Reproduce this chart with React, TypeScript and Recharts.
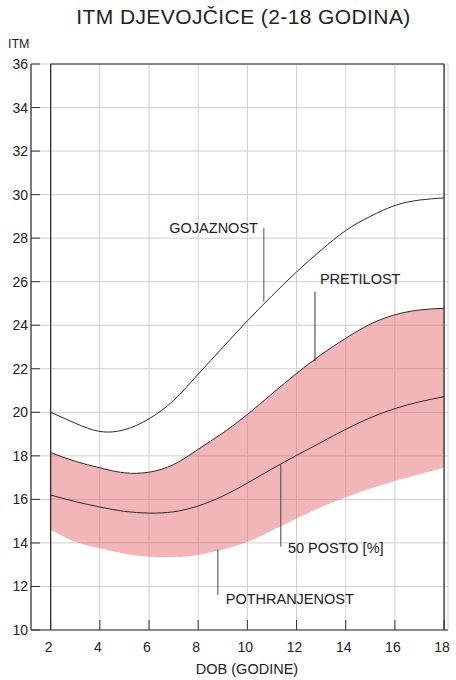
import React from 'react';
import {
  ComposedChart,
  Area,
  Line,
  XAxis,
  YAxis,
  CartesianGrid,
  ReferenceLine,
  ReferenceDot,
} from 'recharts';

// BMI percentile curves for girls, 2-18 years
const ages = [2, 3, 4, 5, 6, 7, 8, 9, 10, 11, 12, 13, 14, 15, 16, 17, 18];
const obese = [20.0, 19.5, 19.12, 19.2, 19.7, 20.55, 21.75, 22.98, 24.2, 25.35, 26.45, 27.45, 28.35, 29.0, 29.5, 29.75, 29.85];
const overweight = [18.15, 17.75, 17.45, 17.22, 17.25, 17.6, 18.3, 19.05, 19.9, 20.85, 21.78, 22.65, 23.4, 24.05, 24.48, 24.7, 24.78];
const median = [16.2, 15.9, 15.65, 15.45, 15.37, 15.43, 15.7, 16.15, 16.75, 17.4, 18.02, 18.62, 19.22, 19.75, 20.17, 20.48, 20.72];
const underweight = [14.6, 14.05, 13.75, 13.5, 13.37, 13.35, 13.45, 13.7, 14.05, 14.57, 15.12, 15.65, 16.1, 16.5, 16.85, 17.15, 17.45];

const xTicks = [2, 4, 6, 8, 10, 12, 14, 16, 18];
const yTicks = [10, 12, 14, 16, 18, 20, 22, 24, 26, 28, 30, 32, 34, 36];

const data = ages.map((age, i) => ({
  age,
  obese: obese[i],
  overweight: overweight[i],
  median: median[i],
  band: [underweight[i], overweight[i]],
}));

const FONT = '"Liberation Sans", Arial, sans-serif';
const LINE = '#2b2b2b';

const YTick = (props: any) => {
  const { x, y, payload } = props;
  return (
    <g>
      <line x1={x} x2={x + 9} y1={y} y2={y} stroke="#333" strokeWidth={1} />
      <text x={x - 3} y={y} textAnchor="end" dominantBaseline="central" fontSize={14} fill="#222" fontFamily={FONT}>
        {payload.value}
      </text>
    </g>
  );
};

const XTick = (props: any) => {
  const { x, y, payload } = props;
  return (
    <g>
      <line x1={x} x2={x} y1={y} y2={y - 10} stroke="#333" strokeWidth={1} />
      <text x={x - 2} y={y + 17} textAnchor="middle" dominantBaseline="central" fontSize={14} fill="#222" fontFamily={FONT}>
        {payload.value}
      </text>
    </g>
  );
};

const note = (label: string, anchor: 'start' | 'end') => (p: any) => (
  <text x={p.cx} y={p.cy} textAnchor={anchor} dominantBaseline="central" fontSize={14.5} fill="#222" fontFamily={FONT}>
    {label}
  </text>
);

export default function App() {
  return (
    <div style={{ position: 'absolute', left: 0, top: 0, width: 456, height: 680, background: '#fff', fontFamily: FONT }}>
      <div style={{ position: 'absolute', left: 0, top: 5, width: 487, textAlign: 'center', fontSize: 21, letterSpacing: 0.4, color: '#222' }}>
        ITM DJEVOJČICE (2-18 GODINA)
      </div>
      <div style={{ position: 'absolute', left: 8, top: 37, fontSize: 12.5, color: '#222' }}>ITM</div>
      <div style={{ position: 'absolute', left: 0, top: 661, width: 494, textAlign: 'center', fontSize: 14.5, color: '#222' }}>
        DOB (GODINE)
      </div>
      <ComposedChart width={456} height={680} data={data} margin={{ top: 64, right: 8, bottom: 0, left: 0 }}>
        <CartesianGrid stroke="#cfcfcf" strokeWidth={1} />
        <XAxis
          dataKey="age"
          type="number"
          domain={[1.2, 18.16]}
          ticks={xTicks}
          allowDataOverflow
          height={50}
          tickSize={0}
          tickMargin={0}
          tickLine={false}
          tick={<XTick />}
          axisLine={{ stroke: '#333', strokeWidth: 1.2 }}
          interval={0}
        />
        <YAxis
          type="number"
          domain={[10, 36]}
          ticks={yTicks}
          width={31}
          tickSize={0}
          tickMargin={0}
          tickLine={false}
          tick={<YTick />}
          axisLine={{ stroke: '#333', strokeWidth: 1.2 }}
          interval={0}
        />
        <Area
          dataKey="band"
          type="natural"
          stroke="none"
          fill="#E86D72"
          fillOpacity={0.5}
          isAnimationActive={false}
        />
        <Line dataKey="obese" type="natural" stroke={LINE} strokeWidth={1} dot={false} isAnimationActive={false} />
        <Line dataKey="overweight" type="natural" stroke={LINE} strokeWidth={1} dot={false} isAnimationActive={false} />
        <Line dataKey="median" type="natural" stroke={LINE} strokeWidth={1} dot={false} isAnimationActive={false} />

        {/* chart frame */}
        <ReferenceLine x={2} stroke="#222" strokeWidth={1.2} />
        <ReferenceLine x={18} stroke="#222" strokeWidth={1.2} />
        <ReferenceLine segment={[{ x: 2, y: 36 }, { x: 18, y: 36 }]} stroke="#222" strokeWidth={1.2} />

        {/* annotation pointers */}
        <ReferenceLine segment={[{ x: 10.67, y: 28.47 }, { x: 10.67, y: 25.08 }]} stroke="#555" strokeWidth={1} />
        <ReferenceLine segment={[{ x: 12.75, y: 25.54 }, { x: 12.75, y: 22.35 }]} stroke="#333" strokeWidth={1} />
        <ReferenceLine segment={[{ x: 11.36, y: 17.6 }, { x: 11.36, y: 13.83 }]} stroke="#444" strokeWidth={1} />
        <ReferenceLine segment={[{ x: 8.8, y: 13.7 }, { x: 8.8, y: 11.61 }]} stroke="#444" strokeWidth={1} />

        <ReferenceDot x={10.43} y={28.47} r={0} shape={note('GOJAZNOST', 'end')} />
        <ReferenceDot x={12.95} y={26.12} r={0} shape={note('PRETILOST', 'start')} />
        <ReferenceDot x={11.65} y={13.78} r={0} shape={note('50 POSTO [%]', 'start')} />
        <ReferenceDot x={9.12} y={11.42} r={0} shape={note('POTHRANJENOST', 'start')} />
      </ComposedChart>
    </div>
  );
}
